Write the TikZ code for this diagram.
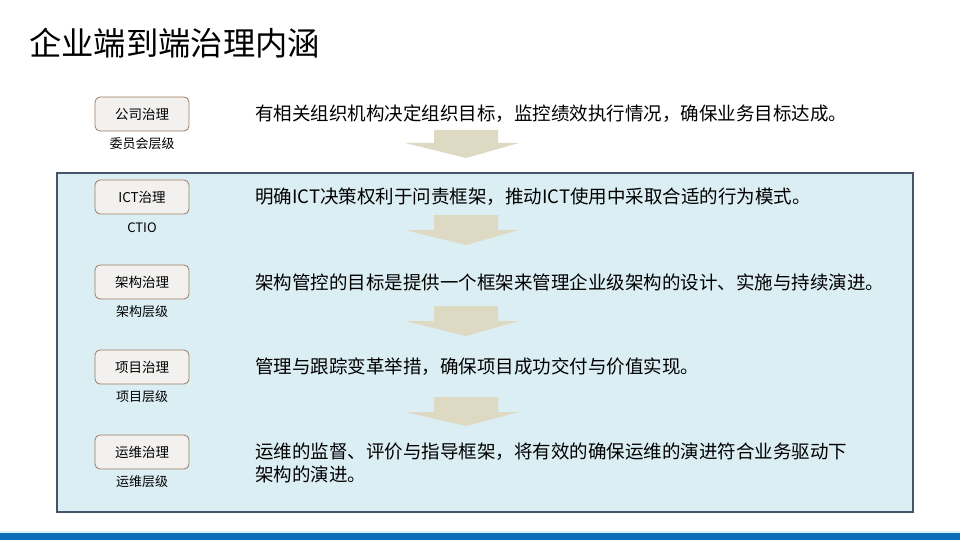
\documentclass[tikz,border=0pt]{standalone}
\usepackage{fontspec}
\setmainfont{Noto Sans CJK SC}
\usepackage{tikz}

\definecolor{panelfill}{HTML}{DBEEF4}
\definecolor{paneledge}{HTML}{44546A}
\definecolor{boxfill}{HTML}{F2F1F0}
\definecolor{boxedge}{HTML}{9C7B5E}
\definecolor{arrowtan}{HTML}{DDD9C3}
\definecolor{barblue}{HTML}{0B6DB7}

\tikzset{
  govbox/.style={draw=boxedge, fill=boxfill, rounded corners=5pt, line width=0.8pt,
    minimum width=94pt, minimum height=34pt, inner sep=0pt,
    font=\fontsize{13.5}{15}\selectfont},
  levellabel/.style={inner sep=0pt, font=\fontsize{13}{15}\selectfont},
  desc/.style={anchor=west, inner sep=0pt, align=left,
    font=\fontsize{18.5}{22.5}\selectfont}
}

\begin{document}
\begin{tikzpicture}[x=1pt,y=-1pt]
  \useasboundingbox (0,0) rectangle (960,540);
  \fill[white] (0,0) rectangle (960,540);

  % title
  \node[anchor=west, inner sep=0pt, font=\fontsize{32.3}{36}\selectfont] (title) at (29,43) {企业端到端治理内涵};

  % panel
  \draw[fill=panelfill, draw=paneledge, line width=2.5pt] (57,173) rectangle (913,512);

  % down arrows
  \fill[arrowtan] (434,130) -- (498,130) -- (498,143) -- (519,143) -- (466,158) -- (405,143) -- (434,143) -- cycle;
  \fill[arrowtan] (434,215) -- (498,215) -- (498,230) -- (519,230) -- (466,245) -- (405,230) -- (434,230) -- cycle;
  \fill[arrowtan] (434,306) -- (498,306) -- (498,321) -- (519,321) -- (466,336) -- (405,321) -- (434,321) -- cycle;
  \fill[arrowtan] (434,397) -- (498,397) -- (498,412) -- (519,412) -- (466,426) -- (405,412) -- (434,412) -- cycle;

  % rows
  \node[govbox] (company) at (142,114) {公司治理};
  \node[levellabel] (companylvl) at (142,144) {委员会层级};
  \node[desc] (companytxt) at (255,114) {有相关组织机构决定组织目标，监控绩效执行情况，确保业务目标达成。};

  \node[govbox] (ict) at (142,197) {ICT治理};
  \node[levellabel] (ictlvl) at (142,228) {CTIO};
  \node[desc] (icttxt) at (255,197) {明确ICT决策权利于问责框架，推动ICT使用中采取合适的行为模式。};

  \node[govbox] (arch) at (142,282) {架构治理};
  \node[levellabel] (archlvl) at (142,312) {架构层级};
  \node[desc] (archtxt) at (255,282) {架构管控的目标是提供一个框架来管理企业级架构的设计、实施与持续演进。};

  \node[govbox] (proj) at (142,367) {项目治理};
  \node[levellabel] (projlvl) at (142,397) {项目层级};
  \node[desc] (projtxt) at (255,367) {管理与跟踪变革举措，确保项目成功交付与价值实现。};

  \node[govbox] (ops) at (142,452) {运维治理};
  \node[levellabel] (opslvl) at (142,482) {运维层级};
  \node[desc] (opstxt) at (255,463) {运维的监督、评价与指导框架，将有效的确保运维的演进符合业务驱动下\\架构的演进。};

  % bottom bar
  \fill[cyan!15] (0,531) rectangle (960,533);
  \fill[barblue] (0,533) rectangle (960,540);
\end{tikzpicture}
\end{document}
